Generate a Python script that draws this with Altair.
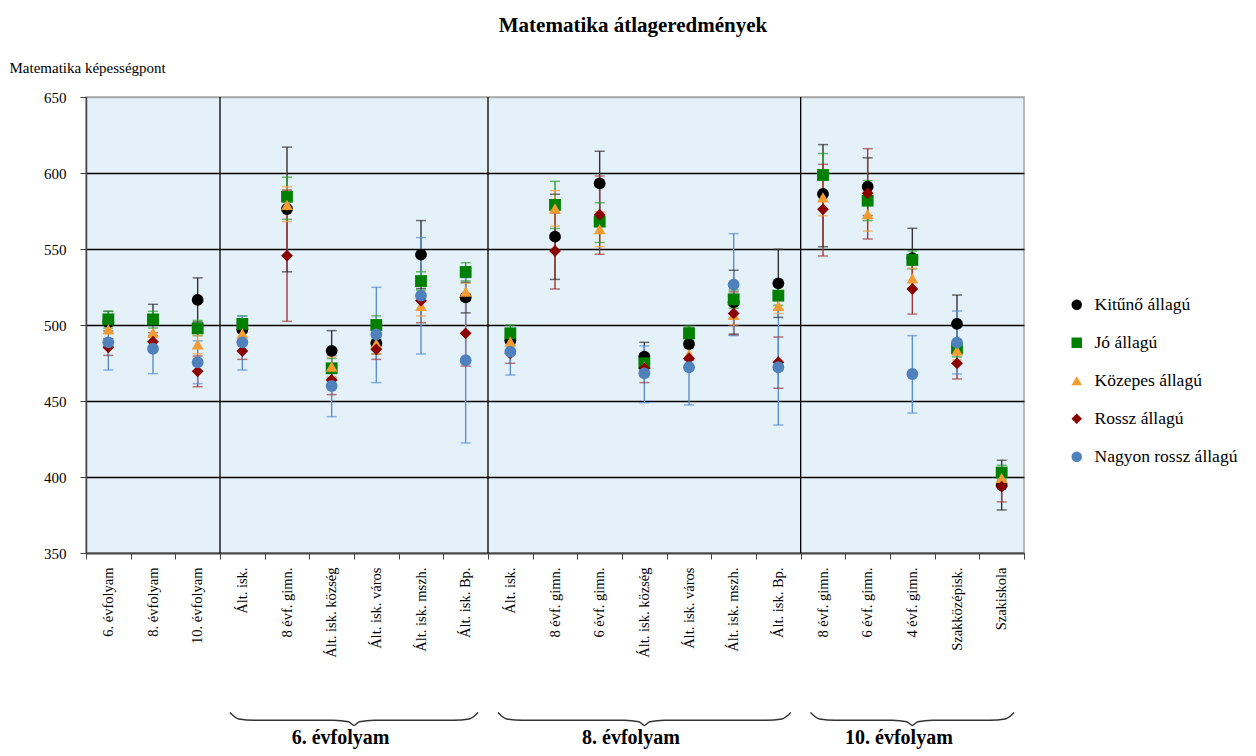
import altair as alt
import pandas as pd

categories = ["6. évfolyam", "8. évfolyam", "10. évfolyam",
              "Ált. isk.", "8 évf. gimn.", "Ált. isk. község", "Ált. isk. város",
              "Ált. isk. mszh.", "Ált. isk. Bp.",
              "Ált. isk.", "8 évf. gimn.", "6 évf. gimn.", "Ált. isk. község",
              "Ált. isk. város", "Ált. isk. mszh.", "Ált. isk. Bp.",
              "8 évf. gimn.", "6 évf. gimn.", "4 évf. gimn.", "Szakközépisk.", "Szakiskola"]

series_names = ["Kitűnő állagú", "Jó állagú", "Közepes állagú", "Rossz állagú", "Nagyon rossz állagú"]

kitu_mean = [502, 503, 516.5, 497, 576.3, 483, 488, 546.3, 518.2, 490, 558.1, 593.2, 479.2, 487.5, 515, 527.4, 586.2, 591, 544, 500.7, 394.7]
kitu_lo = [496, 493, 502, 490, 535, 470, 481, 524, 508, 483, 530, 572, 470, 477, 494, 505, 551.5, 572, 524, 482, 378.3]
kitu_hi = [509, 513.6, 531, 504, 617, 496.3, 495, 568.7, 528, 497, 586, 614.3, 488.6, 498, 536, 549.8, 618.7, 610, 563.6, 519.7, 411]

jo_mean = [503.7, 503.7, 497.8, 500.7, 584.4, 471.5, 500, 528.9, 534.9, 494.5, 579, 568, 474.8, 494.5, 516.9, 519.3, 598.7, 581.8, 542.8, 484.6, 402.9]
jo_lo = [498, 498, 493, 495, 569.5, 465, 494, 523, 529, 489, 563.5, 554.2, 469, 489.7, 511, 513, 584.6, 568.7, 537, 479, 398]
jo_hi = [509, 509, 503, 506, 597.2, 478, 506, 535, 541, 500, 594.5, 580.5, 481, 499.3, 523, 526, 612.8, 595, 548.7, 490, 407.7]

koz_mean = [497.2, 495, 487.3, 494.5, 579, 472.6, 487.8, 512.5, 521.9, 489, 576.8, 563, 472.6, 480.9, 506.6, 512.5, 584, 573, 530.7, 483.1, 399.2]
koz_lo = [491, 489, 481, 488, 568, 466, 481, 506, 516.4, 483, 565.1, 551.5, 466, 474, 500, 507.6, 571.9, 561.8, 524, 477, 394]
koz_hi = [503, 501, 493, 501, 591, 479, 494, 519, 527.4, 495, 588.4, 574.5, 479, 488, 513, 517.4, 596, 584.2, 537.3, 489, 404.4]

rossz_mean = [485.3, 489, 469.5, 482.9, 545.6, 463.8, 484, 516, 494.5, 481.3, 548.7, 572.6, 471.5, 478, 507.6, 475.5, 576.1, 586.7, 523.7, 474.8, 393.7]
rossz_lo = [480, 483, 459.4, 477.4, 502.4, 454.2, 477.4, 501.5, 473, 474.8, 523.7, 546.5, 462.1, 471, 493.4, 458.4, 545.4, 556.6, 507.2, 464.5, 383.6]
rossz_hi = [491, 495, 479.6, 488.4, 588.8, 473.4, 490.6, 530.5, 516, 487.8, 573.7, 598, 481, 485, 521.8, 492.1, 605.7, 616, 540.2, 485, 403.8]

nagy_mean = [488.6, 484.4, 475.5, 488.6, None, 459.9, 493.8, 519.3, 476.8, 482.4, None, None, 468.2, 472.2, 526.6, 472.2, None, None, 467.8, 488.4, None]
nagy_lo = [470.4, 468, 461.4, 470.4, None, 439.7, 462.1, 480.9, 422.4, 467.1, None, None, 448.9, 447.4, 493, 434.2, None, None, 442.1, 467.8, None]
nagy_hi = [506.8, 500.8, 489.6, 505.9, None, 480.1, 524.8, 557.5, 531.2, 497.7, None, None, 486.2, 497, 560.1, 510.2, None, None, 493, 509.2, None]

marker_colors = ["#000000", "#008000", "#F39C31", "#8B0000", "#4F81BD"]
error_colors = ["#333333", "#2E9E2E", "#F0A040", "#A03A3A", "#5B8FD0"]
shapes = ["circle", "square", "triangle-up", "diamond", "circle"]

groups = ["6. évfolyam", "8. évfolyam", "10. évfolyam"]
group_start = [3, 9, 16]
group_end = [9, 16, 21]

FONT = "Liberation Serif"

# ---- data table ----
rows = []
all_series = [(kitu_mean, kitu_lo, kitu_hi), (jo_mean, jo_lo, jo_hi), (koz_mean, koz_lo, koz_hi),
              (rossz_mean, rossz_lo, rossz_hi), (nagy_mean, nagy_lo, nagy_hi)]
for si, (name, (m, lo, hi)) in enumerate(zip(series_names, all_series)):
    for i in range(len(categories)):
        if m[i] is None:
            continue
        rows.append({"k": f"{i:02d}", "series": name, "si": si, "mean": m[i], "lo": lo[i], "hi": hi[i]})
df = pd.DataFrame(rows)

# brace decoration derived from group extents
brace_rows = []
for g, s, e in zip(groups, group_start, group_end):
    x0, x1, mid = s + 0.22, e - 0.22, (s + e) / 2
    pts = [(x0, 245), (x0 + 0.2, 240.8), (x0 + 0.55, 240), (mid - 0.45, 240), (mid - 0.12, 239),
           (mid, 236.5), (mid + 0.12, 239), (mid + 0.45, 240), (x1 - 0.55, 240), (x1 - 0.2, 240.8), (x1, 245)]
    for j, (px, py) in enumerate(pts):
        brace_rows.append({"g": g, "x": px, "y": py, "o": j})
brace_df = pd.DataFrame(brace_rows)
label_df = pd.DataFrame({"g": groups, "x": [(s + e) / 2 - 0.3 for s, e in zip(group_start, group_end)],
                         "y": [228.5] * 3})
sep_df = pd.DataFrame({"x": group_start, "y": [350] * 3, "y2": [650] * 3})

ydom = [350, 650]
label_arr = "[" + ",".join("'" + c + "'" for c in categories) + "]"

xaxis = alt.Axis(title=None, labelExpr=f"{label_arr}[toNumber(datum.value)]",
                 labelAngle=270, labelFont=FONT, labelFontSize=14.5, labelColor="#000",
                 labelPadding=8, tickBand="extent", tickSize=6, tickColor="#444",
                 domainColor="#444", domainWidth=1.5, grid=False)
xenc = alt.X("k:N", scale=alt.Scale(paddingInner=0, paddingOuter=0), axis=xaxis)

yaxis = alt.Axis(values=[350, 400, 450, 500, 550, 600, 650], grid=True,
                 gridColor={"condition": {"test": "datum.value == 650", "value": "#A6A6A6"},
                            "value": "#000000"},
                 gridWidth=1.3, domainColor="#444", domainWidth=1.5,
                 tickColor="#444", tickSize=6, labelFont=FONT, labelFontSize=15,
                 labelColor="#000", labelPadding=14,
                 title="Matematika képességpont", titleFont=FONT, titleFontSize=15,
                 titleFontWeight="normal", titleColor="#000", titleAngle=0,
                 titleAlign="left", titleBaseline="middle", titleX=-77, titleY=-30)

def yenc(field):
    return alt.Y(field, scale=alt.Scale(domain=ydom), axis=yaxis)

err_color = alt.Color("si:N", scale=alt.Scale(domain=list(range(len(series_names))), range=error_colors),
                      legend=None)

rules = alt.Chart(df).mark_rule(strokeWidth=1.4).encode(
    x=xenc, y=yenc("lo:Q"), y2="hi:Q", color=err_color)
caps_lo = alt.Chart(df).mark_tick(thickness=1.5, size=10).encode(
    x=xenc, y=yenc("lo:Q"), color=err_color)
caps_hi = alt.Chart(df).mark_tick(thickness=1.5, size=10).encode(
    x=xenc, y=yenc("hi:Q"), color=err_color)

leg = alt.Legend(title=None, labelFont=FONT, labelFontSize=17.5, labelColor="#000")

points = alt.Chart(df).mark_point(filled=True, opacity=1, size=140, strokeWidth=0).encode(
    x=xenc,
    y=yenc("mean:Q"),
    fill=alt.Fill("series:N", scale=alt.Scale(domain=series_names, range=marker_colors), legend=leg),
    shape=alt.Shape("series:N", scale=alt.Scale(domain=series_names, range=shapes), legend=leg),
)

main = alt.layer(rules, caps_lo, caps_hi, points)

xq = alt.X("x:Q", scale=alt.Scale(domain=[0, 21], nice=False, zero=False), axis=None)
yq = alt.Y("y:Q", scale=alt.Scale(domain=ydom, nice=False, zero=False), axis=None)

seps = alt.Chart(sep_df).mark_rule(color="#000", strokeWidth=1.3).encode(x=xq, y=yq, y2="y2:Q")
braces = alt.Chart(brace_df).mark_line(color="#333", strokeWidth=1.4, interpolate="monotone",
                                        clip=False).encode(
    x=xq, y=yq, detail="g:N", order="o:Q")
glabels = alt.Chart(label_df).mark_text(font=FONT, fontSize=20, fontWeight="bold", color="#000",
                                        baseline="middle", align="center").encode(
    x=xq, y=yq, text="g:N")

deco = alt.layer(seps, braces, glabels)

chart = alt.layer(main, deco).resolve_scale(x="independent", y="independent").properties(
    width=938, height=456,
    title=alt.TitleParams("Matematika átlageredmények", font=FONT, fontSize=21, fontWeight="bold",
                          color="#000", anchor="middle", dx=78, offset=24),
    autosize=alt.AutoSizeParams(type="none"),
    padding={"left": 78, "top": 89, "right": 220, "bottom": 200},
).configure_view(
    fill="#E5F1F9", stroke="#A6A6A6", strokeWidth=1.5
).configure_axis(
    labelFont=FONT, titleFont=FONT
).configure_legend(
    orient="none", legendX=982, legendY=199,
    labelFont=FONT, labelFontSize=17.5, labelColor="#000",
    symbolSize=110, rowPadding=19, labelOffset=9, symbolStrokeWidth=0
)

chart.save("out.html", embed_options={"renderer": "svg", "actions": False})
